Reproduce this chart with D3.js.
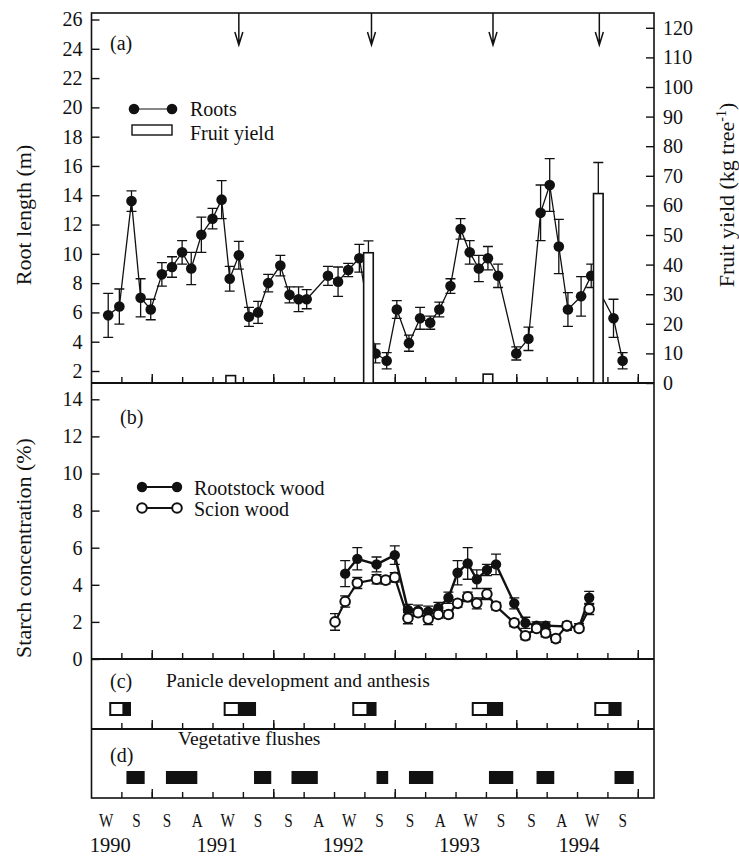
<!DOCTYPE html>
<html>
<head>
<meta charset="utf-8">
<script src="https://cdn.jsdelivr.net/npm/d3@7"></script>
<style>
body { margin: 0; background: #fff; }
svg text { font-family: "Liberation Serif", "Times New Roman", serif; fill: #111; }
</style>
</head>
<body>
<svg id="chart" width="739" height="862"></svg>
<script>
// time is in months from the start of winter 1990 (one season = 3 months)
var rootMonth = [1.7, 2.8, 4.0, 4.9, 5.9, 7.0, 8.0, 9.0, 9.9, 10.9,
    12.0, 12.9, 13.7, 14.6, 15.6, 16.5, 17.5, 18.7, 19.6, 20.5,
    21.3, 23.4, 24.4, 25.4, 26.5, 28.1, 29.2, 30.2, 31.4, 32.5,
    33.5, 34.4, 35.5, 36.5, 37.4, 38.3, 39.2, 40.2, 42.0, 43.2,
    44.4, 45.3, 46.2, 47.1, 48.4, 49.4, 51.6, 52.5];
var rootLength = [5.8, 6.4, 13.6, 7.0, 6.2, 8.6, 9.1, 10.1, 9.0, 11.3,
    12.4, 13.7, 8.3, 9.9, 5.7, 6.0, 8.0, 9.2, 7.2, 6.9,
    6.9, 8.5, 8.1, 8.9, 9.7, 3.2, 2.7, 6.2, 3.9, 5.6,
    5.3, 6.2, 7.8, 11.7, 10.1, 9.0, 9.7, 8.5, 3.2, 4.2,
    12.8, 14.7, 10.5, 6.2, 7.1, 8.5, 5.6, 2.7];
var rootErr = [1.5, 1.2, 0.7, 1.3, 0.7, 0.8, 0.7, 0.8, 1.1, 1.2,
    0.7, 1.3, 0.85, 0.95, 0.65, 0.75, 0.6, 0.7, 0.55, 0.85,
    0.65, 0.65, 1.0, 0.45, 0.95, 0.65, 0.55, 0.6, 0.55, 0.75,
    0.45, 0.5, 0.5, 0.7, 0.8, 0.9, 0.8, 0.8, 0.45, 0.8,
    1.9, 1.8, 1.85, 1.15, 1.35, 0.8, 1.3, 0.55];

var fruitMonth = [13.8, 27.4, 39.2, 50.1];
var fruitYield = [2.5, 44, 3, 64];
var fruitErr = [0, 4, 0, 10.5];
var harvestMonth = [14.6, 27.7, 39.7, 50.2];

var rootstockMonth = [25.1, 26.3, 28.2, 30.0, 31.3, 32.3, 33.3, 34.3, 35.3, 36.2,
    37.2, 38.1, 39.1, 40.0, 41.8, 42.9, 44.0, 44.9, 47.0, 48.2, 49.2];
var rootstockStarch = [4.6, 5.4, 5.1, 5.6, 2.65, 2.6, 2.55, 2.75, 3.3, 4.65,
    5.15, 4.3, 4.8, 5.1, 3.0, 1.95, 1.8, 1.8, 1.75, 1.7, 3.3];
var rootstockErr = [0.7, 0.6, 0.4, 0.5, 0.3, 0.3, 0.3, 0.3, 0.3, 0.65,
    0.85, 0.5, 0.3, 0.55, 0.3, 0.3, 0.2, 0.2, 0.2, 0.2, 0.35];

var scionMonth = [24.1, 25.1, 26.3, 28.2, 29.1, 30.0, 31.3, 32.3, 33.3, 34.3,
    35.3, 36.2, 37.2, 38.1, 39.1, 40.0, 41.8, 42.9, 44.0, 44.9, 45.9, 47.0, 48.2, 49.2];
var scionStarch = [2.0, 3.1, 4.1, 4.3, 4.25, 4.4, 2.2, 2.5, 2.15, 2.4,
    2.4, 3.0, 3.35, 3.0, 3.5, 2.85, 1.95, 1.25, 1.65, 1.4, 1.1, 1.8, 1.65, 2.7];
var scionErr = [0.45, 0.3, 0.3, 0.25, 0.2, 0.25, 0.3, 0.2, 0.3, 0.2,
    0.2, 0.2, 0.25, 0.3, 0.3, 0.2, 0.2, 0.2, 0.2, 0.2, 0.2, 0.2, 0.15, 0.3];

// panicle development (open) and anthesis (filled), start/end month
var panicleOpen = [[1.9, 3.1], [13.2, 14.5], [25.9, 27.2], [37.7, 39.1], [49.8, 51.1]];
var panicleFull = [[3.1, 3.85], [14.5, 16.2], [27.2, 28.1], [39.1, 40.6], [51.1, 52.3]];
var flushes = [[3.5, 5.3], [7.4, 10.5], [16.1, 17.8], [19.8, 22.4], [28.2, 29.35],
    [31.4, 33.8], [39.3, 41.7], [44.0, 45.75], [51.7, 53.6]];

var seasons = ["W", "S", "S", "A", "W", "S", "S", "A", "W", "S", "S", "A", "W", "S", "S", "A", "W", "S"];
var years = ["1990", "1991", "1992", "1993", "1994"];
var yearMonth = [1.9, 12.45, 24.9, 36.4, 48.2];

var svg = d3.select("#chart");
var L = 91.5, R = 654, T = 13, yA = 383, yB = 659, yC = 729, yD = 798;

var x = d3.scaleLinear().domain([0, 55.6]).range([91, 654]);
var yRoot = d3.scaleLinear().domain([2, 26]).range([371, 19.5]);
var yFruit = d3.scaleLinear().domain([0, 120]).range([383, 27.8]);
var yStarch = d3.scaleLinear().domain([0, 14]).range([659, 399.3]);

function clean(g) {
    g.select(".domain").remove();
    g.selectAll("line").attr("stroke", "#111").attr("stroke-width", 1.4);
    g.selectAll("text").attr("font-size", 20).attr("fill", "#111");
}

// axes
svg.append("g").attr("transform", "translate(" + L + ",0)")
    .call(d3.axisLeft(yRoot).tickValues(d3.range(2, 27, 2)).tickSize(-8).tickPadding(9))
    .call(clean);
svg.append("g").attr("transform", "translate(" + R + ",0)")
    .call(d3.axisRight(yFruit).tickValues(d3.range(0, 121, 10)).tickSize(-8).tickPadding(9))
    .call(clean);
svg.append("g").attr("transform", "translate(" + L + ",0)")
    .call(d3.axisLeft(yStarch).tickValues(d3.range(0, 15, 2)).tickSize(-8).tickPadding(9))
    .call(clean);

[yA, yB, yC, yD].forEach(function (by) {
    svg.append("g").attr("transform", "translate(0," + by + ")")
        .call(d3.axisTop(x).tickValues(d3.range(3, 55, 3)).tickSize(6).tickFormat(""))
        .call(clean);
    svg.append("g").attr("transform", "translate(0," + by + ")")
        .call(d3.axisTop(x).tickValues([6, 18, 30, 42, 54]).tickSize(9).tickFormat(""))
        .call(clean);
});

// frame
svg.append("rect").attr("x", L).attr("y", T).attr("width", R - L).attr("height", yD - T)
    .attr("fill", "none").attr("stroke", "#111").attr("stroke-width", 1.6);
[yA, yB, yC].forEach(function (by) {
    svg.append("line").attr("x1", L).attr("x2", R).attr("y1", by).attr("y2", by)
        .attr("stroke", "#111").attr("stroke-width", 1.8);
});

function errBars(g, rows, y, w) {
    g.selectAll(null).data(rows).enter().append("path")
        .attr("d", function (d) {
            var cx = x(d.m), y0 = y(d.v - d.e), y1 = y(d.v + d.e);
            return "M" + cx + "," + y0 + "V" + y1 +
                "M" + (cx - w) + "," + y0 + "H" + (cx + w) +
                "M" + (cx - w) + "," + y1 + "H" + (cx + w);
        })
        .attr("fill", "none").attr("stroke", "#111").attr("stroke-width", 1.3);
}

// panel (a): roots
var roots = rootMonth.map(function (m, i) { return {m: m, v: rootLength[i], e: rootErr[i]}; });
var ga = svg.append("g");
errBars(ga, roots, yRoot, 5);
ga.append("path").datum(roots)
    .attr("d", d3.line().x(function (d) { return x(d.m); }).y(function (d) { return yRoot(d.v); }))
    .attr("fill", "none").attr("stroke", "#111").attr("stroke-width", 1.3);
ga.selectAll(".root").data(roots).enter().append("circle")
    .attr("cx", function (d) { return x(d.m); })
    .attr("cy", function (d) { return yRoot(d.v); })
    .attr("r", 5.3).attr("fill", "#111");

// fruit yield bars on top of the line
var fruit = fruitMonth.map(function (m, i) { return {m: m, v: fruitYield[i], e: fruitErr[i]}; });
ga.selectAll(".bar").data(fruit).enter().append("rect")
    .attr("x", function (d) { return x(d.m) - 4.8; })
    .attr("width", 9.6)
    .attr("y", function (d) { return yFruit(d.v); })
    .attr("height", function (d) { return yFruit(0) - yFruit(d.v); })
    .attr("fill", "#fff").attr("stroke", "#111").attr("stroke-width", 1.6);
ga.selectAll(".ferr").data(fruit.filter(function (d) { return d.e > 0; })).enter().append("path")
    .attr("d", function (d) {
        var cx = x(d.m), y0 = yFruit(d.v), y1 = yFruit(d.v + d.e);
        return "M" + cx + "," + y0 + "V" + y1 + "M" + (cx - 5) + "," + y1 + "H" + (cx + 5);
    })
    .attr("fill", "none").attr("stroke", "#111").attr("stroke-width", 1.3);

// harvest arrows
ga.selectAll(".arrow").data(harvestMonth).enter().append("path")
    .attr("d", function (m) {
        var ax = x(m);
        return "M" + ax + "," + T + "V45M" + (ax - 4) + ",32L" + ax + ",45L" + (ax + 4) + ",32";
    })
    .attr("fill", "none").attr("stroke", "#111").attr("stroke-width", 1.5);

// panel (b): starch
var rootstock = rootstockMonth.map(function (m, i) { return {m: m, v: rootstockStarch[i], e: rootstockErr[i]}; });
var scion = scionMonth.map(function (m, i) { return {m: m, v: scionStarch[i], e: scionErr[i]}; });
var starchLine = d3.line().x(function (d) { return x(d.m); }).y(function (d) { return yStarch(d.v); });
var gb = svg.append("g");
errBars(gb, rootstock, yStarch, 5);
gb.append("path").datum(rootstock).attr("d", starchLine)
    .attr("fill", "none").attr("stroke", "#111").attr("stroke-width", 2.4);
gb.selectAll(".rs").data(rootstock).enter().append("circle")
    .attr("cx", function (d) { return x(d.m); })
    .attr("cy", function (d) { return yStarch(d.v); })
    .attr("r", 5.2).attr("fill", "#111");
errBars(gb, scion, yStarch, 5);
gb.append("path").datum(scion).attr("d", starchLine)
    .attr("fill", "none").attr("stroke", "#111").attr("stroke-width", 2.2);
gb.selectAll(".sc").data(scion).enter().append("circle")
    .attr("cx", function (d) { return x(d.m); })
    .attr("cy", function (d) { return yStarch(d.v); })
    .attr("r", 4.8).attr("fill", "#fff").attr("stroke", "#111").attr("stroke-width", 2);

// panel (c): panicles
var gc = svg.append("g");
gc.selectAll(".po").data(panicleOpen).enter().append("rect")
    .attr("x", function (d, i) { return x(d[0]); })
    .attr("width", function (d, i) { return x(panicleFull[i][1]) - x(d[0]); })
    .attr("y", 703).attr("height", 12)
    .attr("fill", "#fff").attr("stroke", "#111").attr("stroke-width", 2);
gc.selectAll(".pf").data(panicleFull).enter().append("rect")
    .attr("x", function (d) { return x(d[0]); })
    .attr("width", function (d) { return x(d[1]) - x(d[0]); })
    .attr("y", 703).attr("height", 12).attr("fill", "#111");

// panel (d): flushes
svg.append("g").selectAll("rect").data(flushes).enter().append("rect")
    .attr("x", function (d) { return x(d[0]); })
    .attr("width", function (d) { return x(d[1]) - x(d[0]); })
    .attr("y", 771).attr("height", 13).attr("fill", "#111");

// season and year labels
svg.append("g").selectAll("text").data(seasons).enter().append("text")
    .attr("transform", function (d, i) { return "translate(" + x(1.5 + 3 * i) + ",827) scale(0.95,1.12)"; })
    .attr("text-anchor", "middle").attr("font-size", 16).text(function (d) { return d; });
svg.append("g").selectAll("text").data(years).enter().append("text")
    .attr("transform", function (d, i) { return "translate(" + x(yearMonth[i]) + ",852) scale(1.08,1.12)"; })
    .attr("text-anchor", "middle").attr("font-size", 19).text(function (d) { return d; });

// panel texts
function label(tx, ty, s, size) {
    svg.append("text").attr("x", tx).attr("y", ty).attr("font-size", size || 20).text(s);
}
label(110, 50, "(a)");
label(120, 424, "(b)");
label(110, 688, "(c)");
label(166, 687, "Panicle development and anthesis", 19.5);
label(110, 762, "(d)");
label(178, 745, "Vegetative flushes", 19.5);

// legend (a)
svg.append("line").attr("x1", 134).attr("x2", 172).attr("y1", 109).attr("y2", 109)
    .attr("stroke", "#111").attr("stroke-width", 1.2);
svg.selectAll(".lga").data([134, 172]).enter().append("circle")
    .attr("cx", function (d) { return d; }).attr("cy", 109).attr("r", 5.3).attr("fill", "#111");
label(190, 116, "Roots");
svg.append("rect").attr("x", 132).attr("y", 125).attr("width", 40).attr("height", 10)
    .attr("fill", "#fff").attr("stroke", "#111").attr("stroke-width", 1.4);
label(190, 140, "Fruit yield");

// legend (b)
svg.append("line").attr("x1", 142).attr("x2", 177).attr("y1", 487).attr("y2", 487)
    .attr("stroke", "#111").attr("stroke-width", 2);
svg.selectAll(".lgb").data([142, 177]).enter().append("circle")
    .attr("cx", function (d) { return d; }).attr("cy", 487).attr("r", 5.2).attr("fill", "#111");
label(194, 495, "Rootstock wood");
svg.append("line").attr("x1", 142).attr("x2", 177).attr("y1", 508).attr("y2", 508)
    .attr("stroke", "#111").attr("stroke-width", 2);
svg.selectAll(".lgs").data([142, 177]).enter().append("circle")
    .attr("cx", function (d) { return d; }).attr("cy", 508).attr("r", 4.8)
    .attr("fill", "#fff").attr("stroke", "#111").attr("stroke-width", 2);
label(194, 516, "Scion wood");

// axis titles
svg.append("text").attr("transform", "translate(31,215) rotate(-90)")
    .attr("text-anchor", "middle").attr("font-size", 22).text("Root length (m)");
svg.append("text").attr("transform", "translate(31,548) rotate(-90)")
    .attr("text-anchor", "middle").attr("font-size", 22).text("Starch concentration (%)");
var ft = svg.append("text").attr("transform", "translate(734,195) rotate(-90)")
    .attr("text-anchor", "middle").attr("font-size", 22);
ft.append("tspan").text("Fruit yield (kg tree");
ft.append("tspan").attr("dy", -8).attr("font-size", 14).text("-1");
ft.append("tspan").attr("dy", 8).text(")");
</script>
</body>
</html>
